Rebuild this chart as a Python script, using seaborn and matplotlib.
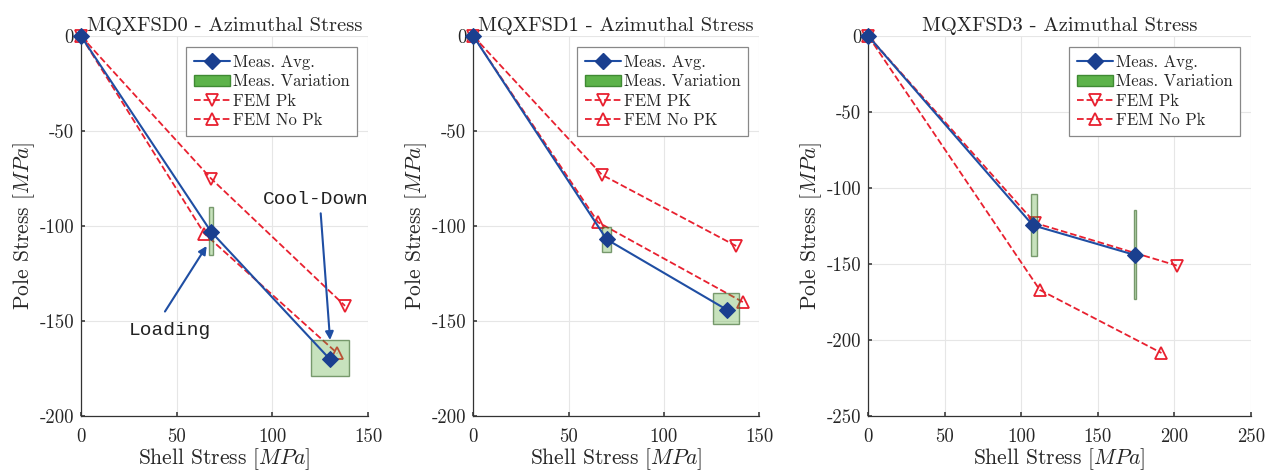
import seaborn as sns
import matplotlib
matplotlib.use('Agg')
import matplotlib.pyplot as plt
from matplotlib.patches import Patch
from matplotlib.lines import Line2D

# ---- data ----
titles = ['MQXFSD0 - Azimuthal Stress', 'MQXFSD1 - Azimuthal Stress', 'MQXFSD3 - Azimuthal Stress']
fem_pk_labels = ['FEM Pk', 'FEM PK', 'FEM Pk']
fem_nopk_labels = ['FEM No Pk', 'FEM No PK', 'FEM No Pk']

meas_x = [[0, 68, 130], [0, 70, 133], [0, 107.5, 174]]
meas_y = [[0, -103, -170], [0, -107, -144], [0, -124.5, -144]]

# measurement variation boxes: x-range and y-range per point
var_xlo = [[67, 120], [67.4, 126], [106, 173.4]]
var_xhi = [[69.2, 140], [72.3, 139.5], [110, 174.6]]
var_ylo = [[-115, -179], [-113.5, -151.5], [-144.5, -173]]
var_yhi = [[-90, -160], [-100.5, -135.5], [-104, -114.5]]

pk_x = [[0, 68, 138], [0, 67.5, 138], [0, 109, 201.5]]
pk_y = [[0, -75, -142], [0, -73, -110.5], [0, -123, -151]]

nopk_x = [[0, 64.5, 134], [0, 65.5, 141.5], [0, 112, 191.5]]
nopk_y = [[0, -104, -167], [0, -98, -140], [0, -167, -208.5]]

xmax = [150, 150, 250]
ymin = [-200, -200, -250]

sns.set_theme(style='whitegrid')
plt.rcParams['font.family'] = ['cmr10', 'DejaVu Serif']
plt.rcParams['mathtext.fontset'] = 'cm'
plt.rcParams['axes.unicode_minus'] = False
plt.rcParams['axes.formatter.use_mathtext'] = False

blue = '#1f4ea3'
red = '#e8202f'

fig = plt.figure(figsize=(12.75, 4.72), dpi=100)
positions = [
    [0.0635, 0.1186, 0.2251, 0.805],
    [0.3712, 0.1186, 0.2241, 0.805],
    [0.6810, 0.1186, 0.3002, 0.805],
]

for i in range(3):
    ax = fig.add_axes(positions[i])

    sns.lineplot(x=pk_x[i], y=pk_y[i], ax=ax, sort=False, estimator=None, color=red,
                 linestyle='--', linewidth=1.3, marker='v', markersize=9,
                 markerfacecolor='none', markeredgecolor=red, markeredgewidth=1.3,
                 zorder=3, clip_on=False)
    sns.lineplot(x=nopk_x[i], y=nopk_y[i], ax=ax, sort=False, estimator=None, color=red,
                 linestyle='--', linewidth=1.3, marker='^', markersize=9,
                 markerfacecolor='none', markeredgecolor=red, markeredgewidth=1.3,
                 zorder=3, clip_on=False)

    # variation boxes (semi-transparent)
    widths = [hi - lo for lo, hi in zip(var_xlo[i], var_xhi[i])]
    heights = [hi - lo for lo, hi in zip(var_ylo[i], var_yhi[i])]
    ax.bar(var_xlo[i], heights, width=widths, bottom=var_ylo[i], align='edge',
           color=(0.38, 0.68, 0.26, 0.35), edgecolor=(0.24, 0.42, 0.19, 0.65),
           linewidth=1.0, zorder=4)

    sns.lineplot(x=meas_x[i], y=meas_y[i], ax=ax, sort=False, estimator=None, color=blue,
                 linewidth=1.5, marker='D', markersize=8, markerfacecolor='#1a3f8f',
                 markeredgecolor='#1a3f8f', zorder=5, clip_on=False)

    ax.set_xlim(0, xmax[i])
    ax.set_ylim(ymin[i], 0)
    ax.set_xticks(range(0, xmax[i] + 1, 50))
    ax.set_yticks(range(ymin[i], 1, 50))
    ax.set_title(titles[i], fontsize=14.8, pad=4)
    ax.set_xlabel('Shell Stress [$MPa$]', fontsize=15.5, labelpad=0)
    ax.set_ylabel('Pole Stress [$MPa$]', fontsize=15.5, labelpad=2)
    ax.tick_params(axis='both', labelsize=13.5, direction='in', length=3,
                   color='#444444', pad=5, left=True, bottom=True)
    ax.tick_params(axis='x', pad=9)
    ax.grid(True, color='#e6e6e6', linewidth=0.8)
    for side in ['top', 'right']:
        ax.spines[side].set_visible(False)
    for side in ['left', 'bottom']:
        ax.spines[side].set_color('#333333')
        ax.spines[side].set_linewidth(0.9)

    handles = [
        Line2D([], [], color=blue, linewidth=1.5, marker='D', markersize=8,
               markerfacecolor='#1a3f8f', markeredgecolor='#1a3f8f'),
        Patch(facecolor='#5db34a', edgecolor='#3f8a33'),
        Line2D([], [], color=red, linestyle='--', linewidth=1.3, marker='v', markersize=9,
               markerfacecolor='none', markeredgecolor=red, markeredgewidth=1.3),
        Line2D([], [], color=red, linestyle='--', linewidth=1.3, marker='^', markersize=9,
               markerfacecolor='none', markeredgecolor=red, markeredgewidth=1.3),
    ]
    labels = ['Meas. Avg.', 'Meas. Variation', fem_pk_labels[i], fem_nopk_labels[i]]
    leg = ax.legend(handles, labels, loc='upper right', fontsize=12, frameon=True,
                    fancybox=False, edgecolor='#888888', framealpha=1,
                    handlelength=2.2, handletextpad=0.15, labelspacing=0.25,
                    borderpad=0.45, borderaxespad=0.65)
    leg.get_frame().set_linewidth(0.9)
    leg.set_zorder(10)

    if i == 0:
        ax.annotate('', xy=(65.7, -110.5), xytext=(43.9, -145),
                    arrowprops=dict(arrowstyle='-|>', color=blue, lw=1.5,
                                    mutation_scale=12, shrinkA=0, shrinkB=0))
        ax.text(46.5, -155, 'Loading', family='Liberation Mono', fontsize=14,
                ha='center', va='center', color='#222222')
        ax.annotate('', xy=(130.2, -160), xytext=(125.3, -93.3),
                    arrowprops=dict(arrowstyle='-|>', color=blue, lw=1.5,
                                    mutation_scale=12, shrinkA=0, shrinkB=0))
        ax.text(122.5, -86, 'Cool-Down', family='Liberation Mono', fontsize=14,
                ha='center', va='center', color='#222222')

fig.savefig('out.png', dpi=100)
